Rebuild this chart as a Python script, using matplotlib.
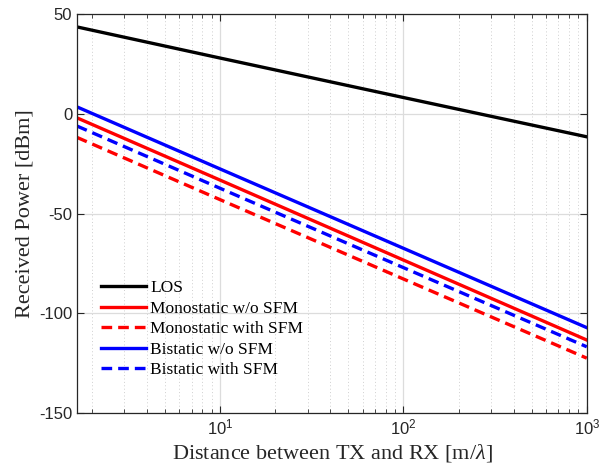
import matplotlib
matplotlib.use("Agg")
import matplotlib.pyplot as plt
from matplotlib.ticker import LogLocator, NullFormatter, FixedLocator

plt.rcParams["axes.unicode_minus"] = False
plt.rcParams["mathtext.fontset"] = "custom"
plt.rcParams["mathtext.rm"] = "Liberation Serif"
plt.rcParams["mathtext.it"] = "Liberation Serif:italic"

distance = [1.66, 10, 100, 1000]
los = [43.6, 28.0, 8.2, -11.5]
mono_wo = [-2.0, -33.2, -73.3, -113.4]
mono_with = [-11.8, -43.0, -82.8, -122.5]
bi_wo = [3.5, -27.6, -67.4, -107.2]
bi_with = [-6.1, -37.3, -77.1, -116.8]
labels = ["LOS", "Monostatic w/o SFM", "Monostatic with SFM", "Bistatic w/o SFM", "Bistatic with SFM"]
yticks = [-150, -100, -50, 0, 50]

fig = plt.figure(figsize=(6.12, 4.72), dpi=100)
ax = fig.add_axes([0.1258, 0.125, 0.833, 0.845])

lw = 2.4
ax.plot(distance, los, color="black", lw=lw, label=labels[0])
ax.plot(distance, mono_wo, color="#ff0000", lw=lw, label=labels[1])
ax.plot(distance, mono_with, color="#ff0000", lw=lw, ls=(0, (3.2, 1.8)), label=labels[2])
ax.plot(distance, bi_wo, color="#0000ff", lw=lw, label=labels[3])
ax.plot(distance, bi_with, color="#0000ff", lw=lw, ls=(0, (3.2, 1.8)), label=labels[4])

ax.set_xscale("log")
ax.set_xlim(1.66, 1000)
ax.set_ylim(-150, 50)
ax.yaxis.set_major_locator(FixedLocator(yticks))
ax.xaxis.set_major_locator(LogLocator(base=10, numticks=10))
ax.xaxis.set_minor_locator(LogLocator(base=10, subs=range(2, 10), numticks=20))
ax.xaxis.set_minor_formatter(NullFormatter())

ax.grid(True, which="major", color="#dcdcdc", lw=0.9, ls="-")
ax.grid(True, which="minor", axis="x", color="#cfcfcf", lw=0.7, ls=(0, (1, 2.5)))
ax.set_axisbelow(True)

ax.tick_params(which="both", direction="in", top=True, right=True, colors="#262626",
               labelsize=12, labelcolor="#262626")
ax.tick_params(which="major", length=5, width=0.8)
ax.tick_params(which="minor", length=3, width=0.6)
for lab in ax.get_xticklabels() + ax.get_yticklabels():
    lab.set_fontfamily("Liberation Sans")
for s in ax.spines.values():
    s.set_color("#262626")
    s.set_linewidth(0.9)

ax.set_xlabel("Distance between TX and RX [m/$\\mathit{\\lambda}$]", family="Liberation Serif", fontsize=16, color="#262626", labelpad=3)
ax.set_ylabel("Received Power [dBm]", family="Liberation Serif", fontsize=16, color="#262626", labelpad=3)

leg = ax.legend(loc="lower left", bbox_to_anchor=(0.033, 0.07), frameon=False,
                prop={"family": "Liberation Serif", "size": 12.5}, handlelength=2.6,
                handletextpad=0.25, labelspacing=0.25, borderaxespad=0)

fig.savefig("out.png", dpi=100)
